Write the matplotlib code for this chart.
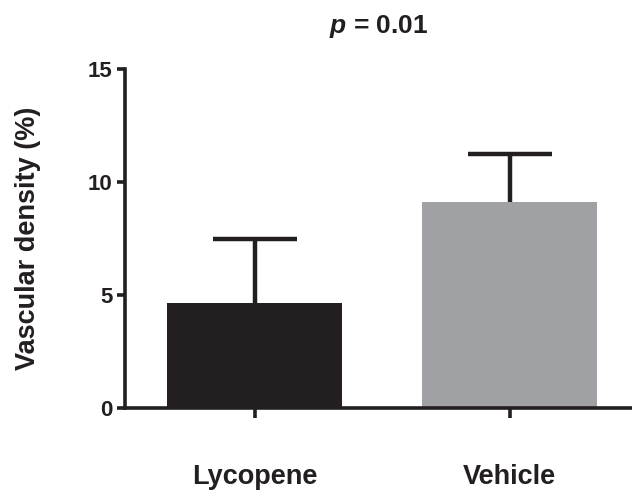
import numpy as np
import matplotlib
matplotlib.use("Agg")
import matplotlib.pyplot as plt

plt.rcParams['font.family'] = ['Liberation Sans', 'DejaVu Sans']
plt.rcParams['font.weight'] = 'bold'
plt.rcParams['mathtext.fontset'] = 'custom'
plt.rcParams['mathtext.it'] = 'Liberation Sans:italic:bold'

# Data
groups = ["Lycopene", "Vehicle"]
means = [4.65, 9.13]
sd_upper = [2.83, 2.11]
bar_colors = ["#231f20", "#a0a1a5"]

fig = plt.figure(figsize=(6.32, 4.91), dpi=100)
ax = fig.add_axes([0.198, 0.169, 0.802, 0.690])

x = np.arange(len(groups))
ax.bar(x, means, width=0.686, color=bar_colors, zorder=2)

# Only upper error bars (hide the lower cap)
yerr = np.array([np.zeros(len(means)), sd_upper])
eb = ax.errorbar(x, means, yerr=yerr, fmt='none', ecolor='#231f20',
                 elinewidth=3.2, capsize=30, capthick=3.2, zorder=1)
eb[1][0].set_visible(False)

ax.set_xlim(-0.508, 1.48)
ax.set_ylim(0, 15)
ax.set_yticks([0, 5, 10, 15])
ax.set_xticks(x)
ax.set_xticklabels(groups, fontsize=19.5, fontweight='bold')

for side in ['top', 'right']:
    ax.spines[side].set_visible(False)
for side in ['left', 'bottom']:
    ax.spines[side].set_linewidth(2.6)
    ax.spines[side].set_color('#231f20')

ax.tick_params(axis='y', length=6, width=2.6, colors='#231f20', labelsize=16, pad=3)
ax.tick_params(axis='x', length=7, width=2.6, colors='#231f20', pad=33)
for lbl in ax.get_yticklabels():
    lbl.set_fontweight('bold')

ax.set_ylabel("Vascular density (%)", fontsize=19.5, fontweight='bold', color='#231f20', labelpad=34)
ax.set_title(r"$\it{p}$ = 0.01", fontsize=19, fontweight='bold', color='#231f20', pad=26)

fig.savefig("out.png", dpi=100)
